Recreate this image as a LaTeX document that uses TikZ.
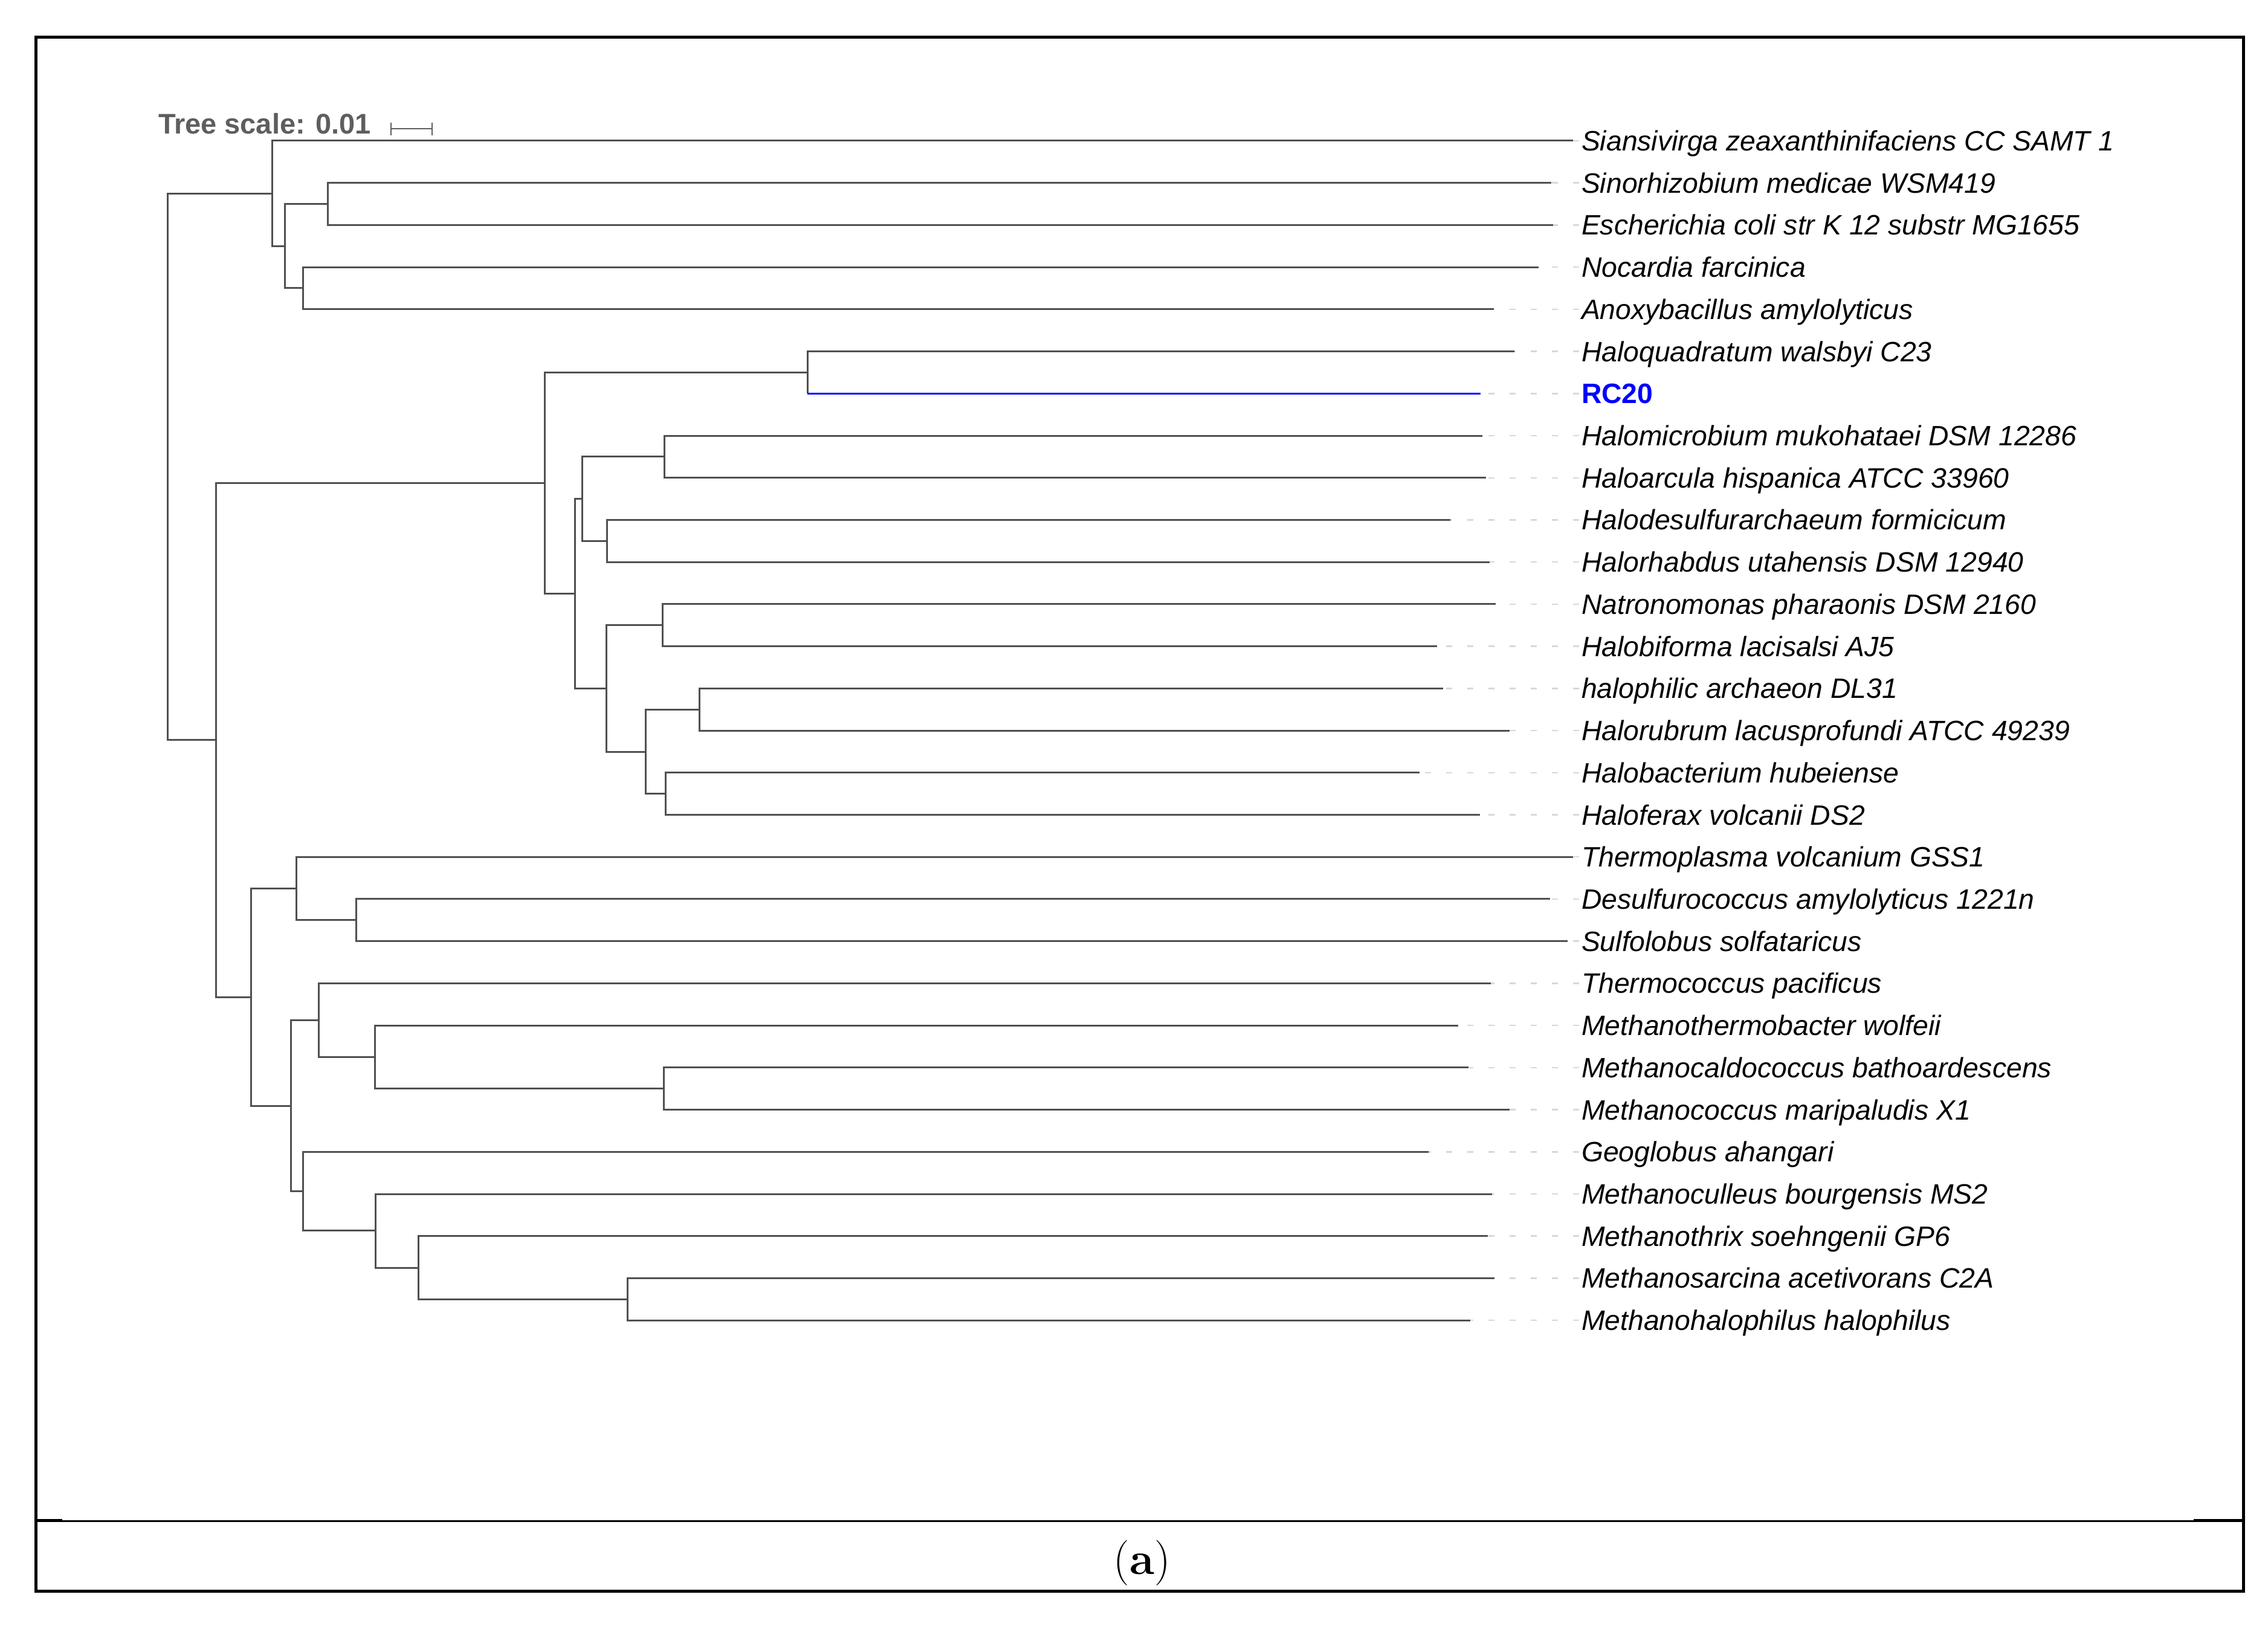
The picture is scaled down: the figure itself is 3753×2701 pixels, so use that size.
\documentclass[tikz,border=0pt]{standalone}
\usepackage{fontspec}
\newfontfamily\arialfont{Liberation Sans}
\definecolor{brc}{HTML}{505050}
\definecolor{extc}{HTML}{D8D8D8}
\definecolor{scalec}{HTML}{5E5E5E}
\definecolor{rcblue}{HTML}{0000FF}
\begin{document}
\begin{tikzpicture}[x=0.2pt,y=-0.2pt,
  br/.style={draw=brc,line width=0.6pt,line join=miter},
  brblue/.style={draw=rcblue,line width=0.6pt},
  ext/.style={draw=extc,line width=0.5pt,dash pattern=on 2pt off 5pt},
  lab/.style={anchor=west,inner sep=0pt,text height=6.6pt,text depth=0pt,
    font=\arialfont\itshape\fontsize{9.27}{11}\selectfont,text=black},
  labrc/.style={anchor=west,inner sep=0pt,text height=6.6pt,text depth=0pt,
    font=\arialfont\bfseries\fontsize{9.27}{11}\selectfont,text=rcblue},
  framel/.style={draw=black,line width=1pt},
  sbar/.style={draw=scalec,line width=0.4pt}]
\useasboundingbox (0,0) rectangle (3753,2701);
% frame
\coordinate (f1) at (57,61.5);
\coordinate (f2) at (3715,61.5);
\draw[framel,line width=0.9pt] (f1) -- (f2);
\coordinate (fl1) at (59.5,59);
\coordinate (fl2) at (59.5,2636);
\draw[framel] (fl1) -- (fl2);
\coordinate (fr1) at (3712.5,59);
\coordinate (fr2) at (3712.5,2636);
\draw[framel] (fr1) -- (fr2);
\coordinate (fb1) at (57,2633.5);
\coordinate (fb2) at (3715,2633.5);
\draw[framel] (fb1) -- (fb2);
\coordinate (s1) at (60,2517.5);
\coordinate (s2) at (3712,2517.5);
\draw[framel,line width=0.6pt] (s1) -- (s2);
\coordinate (sl1) at (60,2516.5);
\coordinate (sl2) at (103,2516.5);
\draw[framel] (sl1) -- (sl2);
\coordinate (sr1) at (3630,2516.5);
\coordinate (sr2) at (3712,2516.5);
\draw[framel] (sr1) -- (sr2);
% caption
\node[inner sep=0pt,font=\fontsize{15}{17}\selectfont] (cap) at (1890,2587) {(\textbf{a})};
% tree scale
\node[anchor=base west,inner sep=0pt,text=scalec,font=\arialfont\bfseries\fontsize{9.4}{11}\selectfont] (ts) at (261,222) {Tree scale: 0.01};
\coordinate (sb1) at (647,213);
\coordinate (sb2) at (715,213);
\draw[sbar] (sb1) -- (sb2);
\draw[sbar] ([yshift=2pt]sb1) -- ([yshift=-2.2pt]sb1);
\draw[sbar] ([yshift=2pt]sb2) -- ([yshift=-2.2pt]sb2);
% leaves
\foreach \i/\xe/\st/\txt in {
 1/2603/lab/{Siansivirga zeaxanthinifaciens CC SAMT 1},
 2/2567/lab/{Sinorhizobium medicae WSM419},
 3/2570/lab/{Escherichia coli str K 12 substr MG1655},
 4/2546/lab/{Nocardia farcinica},
 5/2472/lab/{Anoxybacillus amylolyticus},
 6/2506/lab/{Haloquadratum walsbyi C23},
 7/2450/labrc/{RC20},
 8/2453/lab/{Halomicrobium mukohataei DSM 12286},
 9/2459/lab/{Haloarcula hispanica ATCC 33960},
 10/2400/lab/{Halodesulfurarchaeum formicicum},
 11/2465/lab/{Halorhabdus utahensis DSM 12940},
 12/2475/lab/{Natronomonas pharaonis DSM 2160},
 13/2378/lab/{Halobiforma lacisalsi AJ5},
 14/2388/lab/{halophilic archaeon DL31},
 15/2498/lab/{Halorubrum lacusprofundi ATCC 49239},
 16/2349/lab/{Halobacterium hubeiense},
 17/2449/lab/{Haloferax volcanii DS2},
 18/2603/lab/{Thermoplasma volcanium GSS1},
 19/2565/lab/{Desulfurococcus amylolyticus 1221n},
 20/2594/lab/{Sulfolobus solfataricus},
 21/2467/lab/{Thermococcus pacificus},
 22/2413/lab/{Methanothermobacter wolfeii},
 23/2430/lab/{Methanocaldococcus bathoardescens},
 24/2498/lab/{Methanococcus maripaludis X1},
 25/2364/lab/{Geoglobus ahangari},
 26/2469/lab/{Methanoculleus bourgensis MS2},
 27/2462/lab/{Methanothrix soehngenii GP6},
 28/2473/lab/{Methanosarcina acetivorans C2A},
 29/2433/lab/{Methanohalophilus halophilus}}{
  \pgfmathsetmacro{\yy}{233+(\i-1)*69.72}
  \coordinate (l\i) at (\xe,\yy);
  \node[\st] (t\i) at (2616,\yy) {\txt};
  \draw[ext] ([xshift=-0.6pt]t\i.west) -- (l\i);
}
% internal nodes
\coordinate (R) at (277,772.6);
\coordinate (A) at (450,320.2);
\coordinate (A2) at (471,407.3);
\coordinate (A3) at (542,337.6);
\coordinate (A4) at (501,477.0);
\coordinate (B) at (357,1224.9);
\coordinate (H) at (901,799.5);
\coordinate (HQ) at (1336,616.5);
\coordinate (H2) at (951,982.5);
\coordinate (H3) at (963,825.6);
\coordinate (H4) at (1099,755.9);
\coordinate (H5) at (1004,895.4);
\coordinate (H6) at (1003,1139.4);
\coordinate (H7) at (1096,1034.8);
\coordinate (H8) at (1068,1244.0);
\coordinate (H9) at (1157,1174.2);
\coordinate (H10) at (1101,1313.7);
\coordinate (T) at (415,1650.3);
\coordinate (T1) at (490,1470.6);
\coordinate (T2) at (589,1522.9);
\coordinate (T3) at (481,1830.1);
\coordinate (T4) at (527,1688.4);
\coordinate (T5) at (620,1749.4);
\coordinate (T6) at (1098,1801.7);
\coordinate (T7) at (501,1971.7);
\coordinate (T8) at (621,2036.9);
\coordinate (T9) at (692,2098.0);
\coordinate (T10) at (1038,2150.3);
% branches
\foreach \p/\c in {R/A,R/B,A/l1,A/A2,A2/A3,A2/A4,A3/l2,A3/l3,A4/l4,A4/l5,
  B/H,B/T,H/HQ,H/H2,HQ/l6,H2/H3,H2/H6,H3/H4,H3/H5,H4/l8,H4/l9,H5/l10,H5/l11,
  H6/H7,H6/H8,H7/l12,H7/l13,H8/H9,H8/H10,H9/l14,H9/l15,H10/l16,H10/l17,
  T/T1,T/T3,T1/l18,T1/T2,T2/l19,T2/l20,T3/T4,T3/T7,T4/l21,T4/T5,T5/l22,T5/T6,
  T6/l23,T6/l24,T7/l25,T7/T8,T8/l26,T8/T9,T9/l27,T9/T10,T10/l28,T10/l29}{
  \draw[br] (\p) |- (\c);
}
\coordinate (HQb) at (HQ |- l7);
\draw[br] (HQ) -- (HQb);
\draw[brblue] (HQb) -- (l7);
\end{tikzpicture}
\end{document}
